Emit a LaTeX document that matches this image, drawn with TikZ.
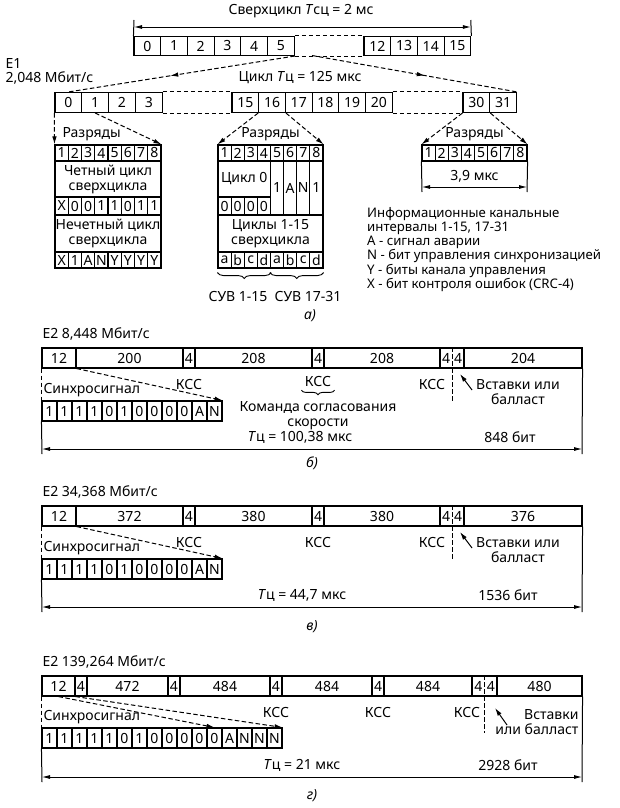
\documentclass[tikz,border=0pt]{standalone}
\usepackage{fontspec}
\setmainfont{Noto Sans}
\usepackage{tikz}
\usetikzlibrary{arrows.meta,positioning,calc,decorations.pathreplacing,decorations.markings}
\tikzset{
  celda/.style={rectangle, draw=black, line width=1.1pt, inner sep=0pt,
                minimum height=20pt},
  bit/.style={celda, minimum width=13.2pt, minimum height=16pt},
  guion/.style={line width=1pt, dash pattern=on 4.5pt off 2.5pt},
  flecha/.style={-{Latex[length=8pt,width=4.5pt]}},
  medio/.style={postaction={decorate},
                decoration={markings, mark=at position 0.55 with {\arrow{Latex[length=8pt,width=4.5pt]}}}},
  cota/.style={{Latex[length=8pt,width=4pt]}-{Latex[length=8pt,width=4pt]}, line width=0.8pt},
  marca/.style={line width=1pt},
  llave/.style={decorate, decoration={brace, mirror, amplitude=#1}, line width=0.9pt},
  llave/.default=6pt,
  parte/.style={font=\fontsize{14}{15}\selectfont\itshape}
}

\begin{document}
\begin{tikzpicture}[x=1pt, y=-1pt, font=\fontsize{14}{15}\selectfont]
  \useasboundingbox (0,0) rectangle (620,808);

  % --- a) Сверхцикл ---
  \node (tsc) at (301,11) {Сверхцикл \textit{T}сц = 2 мс};
  \foreach \t in {0,...,5}
    \node[celda, minimum width=26.7pt, minimum height=19pt] (s\t) at ({147.35+26.7*\t},46) {\t};
  \foreach \t in {12,...,15}
    \node[celda, minimum width=26.7pt, minimum height=19pt] (s\t) at ({377.35+26.7*(\t-12)},46) {\t};
  \draw[guion] (s5.north east) -- (s12.north west);
  \draw[guion] (s5.south east) -- (s12.south west);
  \coordinate (cA) at (134,20);
  \coordinate (cB) at (470.8,20);
  \draw[marca] (s0.north west) -- (cA);
  \draw[marca] (s15.north east) -- (cB);
  \draw[cota] ($(cA)+(0,7)$) -- ($(cB)+(0,7)$);

  % --- E1 ---
  \node[anchor=west] (e1) at (2,64) {E1};
  \node[anchor=west] (e1v) at (2,78) {2,048 Мбит/с};
  \node (tc) at (300,78) {Цикл \textit{T}ц = 125 мкс};
  \foreach \t in {0,...,3}
    \node[celda, minimum width=26.8pt] (c\t) at ({68.4+26.8*\t},102.5) {\t};
  \foreach \t in {15,...,20}
    \node[celda, minimum width=26.7pt] (c\t) at ({245.35+26.7*(\t-15)},102.5) {\t};
  \foreach \t in {30,31}
    \node[celda, minimum width=26.8pt] (c\t) at ({476.4+26.8*(\t-30)},102.5) {\t};
  \draw[guion] (c3.north east) -- (c15.north west);
  \draw[guion] (c3.south east) -- (c15.south west);
  \draw[guion] (c20.north east) -- (c30.north west);
  \draw[guion] (c20.south east) -- (c30.south west);
  \coordinate (hA) at (312,55.5);
  \draw[guion, medio] (s5.south east) -- (c0.north);
  \draw[guion, medio] (hA) -- (c31.north east);

  % --- Разряды ---
  \node[anchor=west] (raz1) at (59,134) {Разряды};
  \node (raz2) at (270.5,134) {Разряды};
  \node (raz3) at (474.5,134) {Разряды};

  % tabla izquierda (КИ 0)
  \foreach \i in {1,...,8}
    \node[bit] (l\i) at ({48.375+13.25*\i},153) {\i};
  \node[celda, minimum width=106pt, minimum height=36pt, align=center] (lpar) at (108,179) {Четный цикл\\сверхцикла};
  \foreach \t [count=\i] in {X,0,0,1,1,0,1,1}
    \node[bit, minimum height=18pt] (lx\i) at ({48.375+13.25*\i},206) {\t};
  \node[celda, minimum width=106pt, minimum height=37pt, align=center] (limp) at (108,233.5) {Нечетный цикл\\сверхцикла};
  \foreach \t [count=\i] in {X,1,A,N,Y,Y,Y,Y}
    \node[bit] (ly\i) at ({48.375+13.25*\i},260) {\t};

  % tabla central (КИ 16)
  \foreach \i in {1,...,8}
    \node[bit] (m\i) at ({211.4375+13.125*\i},153) {\i};
  \node[celda, minimum width=52.5pt, minimum height=36pt] (mc0) at (244.25,179) {Цикл 0};
  \foreach \i in {1,...,4}
    \node[bit, minimum height=18pt] (mz\i) at ({211.4375+13.125*\i},206) {0};
  \foreach \t [count=\i from 5] in {1,A,N,1}
    \node[bit, minimum height=54pt] (mk\i) at ({211.4375+13.125*\i},188) {\t};
  \node[celda, minimum width=105pt, minimum height=37pt, align=center] (mcic) at (270.5,233.5) {Циклы 1-15\\сверхцикла};
  \foreach \t [count=\i] in {a,b,c,d,a,b,c,d}
    \node[bit] (ma\i) at ({211.4375+13.125*\i},260) {\t};
  \draw[llave] ($(ma1.south west)+(0,4)$) -- ($(ma4.south east)+(0,4)$);
  \draw[llave] ($(ma5.south west)+(0,4)$) -- ($(ma8.south east)+(0,4)$);
  \node (suv1) at (238,297) {СУВ 1-15};
  \node (suv2) at (308,297) {СУВ 17-31};

  % tabla derecha
  \foreach \i in {1,...,8}
    \node[bit] (r\i) at ({415.4375+13.125*\i},153) {\i};
  \coordinate (cC) at (422,192);
  \coordinate (cD) at (527,192);
  \draw[marca] (r1.south west) -- (cC);
  \draw[marca] (r8.south east) -- (cD);
  \draw[cota] ($(cC)+(0,-5)$) -- ($(cD)+(0,-5)$);
  \node (t39) at (474.5,176) {3,9 мкс};

  \draw[guion, flecha] (c0.south west) -- (l1.north west);
  \draw[guion, flecha] (c1.south) -- (l8.north east);
  \draw[guion, flecha] (c16.south west) -- (m1.north west);
  \draw[guion, flecha] (c16.south east) -- (m8.north east);
  \draw[guion, flecha] (c30.south west) -- (r1.north west);
  \draw[guion, flecha] (c30.south east) -- (r8.north east);

  \node[anchor=north west, align=left, inner sep=0pt, font=\fontsize{13.2}{14.2}\selectfont] (leyenda) at (367,207)
    {Информационные канальные\\интервалы 1-15, 17-31\\A - сигнал аварии\\N - бит управления синхронизацией\\Y - биты канала управления\\X - бит контроля ошибок (CRC-4)};
  \node[parte] (pa) at (310,316) {а)};

  % --- б) E2 8,448 ---
  \node[anchor=west] (e2b) at (39,334) {E2 8,448 Мбит/с};
  \foreach \a/\b/\t/\n in {42/76/12/b1, 76/183/200/b2, 183/195/4/b3, 195/312/208/b4,
                           312/324/4/b5, 324/440/208/b6, 440/464/{}/b7, 464/582/204/b8}
    \node[celda, minimum width={(\b-\a)*1pt}] (\n) at ({(\a+\b)/2},358) {\t};
  \node (b7a) at (446,358) {4};
  \node (b7b) at (458,358) {4};
  \coordinate (b7c) at (452,403);
  \draw[guion] (b7.north) -- (b7c);
  \node (kb1) at (189,384) {КСС};
  \node (kb2) at (318,381) {КСС};
  \node (kb3) at (432,384) {КСС};
  \draw[llave=4.5pt] ($(kb2.south west)+(0,0.5)$) -- ($(kb2.south east)+(0,0.5)$);
  \node[align=center] (cmd) at (318,416) {Команда согласования\\скорости};
  \node[align=center] (vb) at (518,392) {Вставки или\\балласт};
  \coordinate (fb0) at (472,390);
  \coordinate (fb1) at (460,374);
  \draw[flecha, line width=1pt] (fb0) -- (fb1);
  \node[anchor=west] (snb) at (40,390) {Синхросигнал};
  \foreach \t [count=\i] in {1,1,1,1,0,1,0,0,0,0,A,N}
    \node[celda, minimum width=15pt] (bs\i) at ({34.5+15*\i},411) {\t};
  \draw[guion] (b1.south west) -- (bs1.north west);
  \draw[guion, flecha] (b1.south east) -- (bs12.north east);
  \coordinate (bL) at (42,454);
  \coordinate (bR) at (582,454);
  \draw[marca] (bs1.south west) -- (bL);
  \draw[marca] (b8.south east) -- (bR);
  \draw[cota] ($(bL)+(0,-5)$) -- ($(bR)+(0,-5)$);
  \node (tb) at (300,437) {\textit{T}ц = 100,38 мкс};
  \node (nb) at (510,437) {848 бит};
  \node[parte] (pb) at (312,463) {б)};

  % --- в) E2 34,368 ---
  \node[anchor=west] (e2v) at (39,492) {E2 34,368 Мбит/с};
  \foreach \a/\b/\t/\n in {42/76/12/v1, 76/183/372/v2, 183/195/4/v3, 195/312/380/v4,
                           312/324/4/v5, 324/440/380/v6, 440/464/{}/v7, 464/582/376/v8}
    \node[celda, minimum width={(\b-\a)*1pt}] (\n) at ({(\a+\b)/2},516) {\t};
  \node (v7a) at (446,516) {4};
  \node (v7b) at (458,516) {4};
  \coordinate (v7c) at (452,561);
  \draw[guion] (v7.north) -- (v7c);
  \node (kv1) at (189,542) {КСС};
  \node (kv2) at (318,542) {КСС};
  \node (kv3) at (432,542) {КСС};
  \node[align=center] (vv) at (518,550) {Вставки или\\балласт};
  \coordinate (fv0) at (472,548);
  \coordinate (fv1) at (460,532);
  \draw[flecha, line width=1pt] (fv0) -- (fv1);
  \node[anchor=west] (snv) at (40,548) {Синхросигнал};
  \foreach \t [count=\i] in {1,1,1,1,0,1,0,0,0,0,A,N}
    \node[celda, minimum width=15pt] (vs\i) at ({34.5+15*\i},569) {\t};
  \draw[guion] (v1.south west) -- (vs1.north west);
  \draw[guion, flecha] (v1.south east) -- (vs12.north east);
  \coordinate (vL) at (42,612);
  \coordinate (vR) at (582,612);
  \draw[marca] (vs1.south west) -- (vL);
  \draw[marca] (v8.south east) -- (vR);
  \draw[cota] ($(vL)+(0,-5)$) -- ($(vR)+(0,-5)$);
  \node (tv) at (302,595) {\textit{T}ц = 44,7 мкс};
  \node (nv) at (508,595) {1536 бит};
  \node[parte] (pv) at (312,627) {в)};

  % --- г) E2 139,264 ---
  \node[anchor=west] (e2g) at (39,662) {E2 139,264 Мбит/с};
  \foreach \a/\b/\t/\n in {42/75/12/g1, 75/87/4/g2, 87/168/472/g3, 168/180/4/g4,
                           180/270/484/g5, 270/282/4/g6, 282/372/484/g7, 372/384/4/g8,
                           384/472/484/g9, 472/497/{}/g10, 497/582/480/g11}
    \node[celda, minimum width={(\b-\a)*1pt}] (\n) at ({(\a+\b)/2},686) {\t};
  \node (g10a) at (478.25,686) {4};
  \node (g10b) at (490.75,686) {4};
  \coordinate (g10c) at (484.5,733);
  \draw[guion] (g10.north) -- (g10c);
  \node (kg1) at (276,712) {КСС};
  \node (kg2) at (378,712) {КСС};
  \node (kg3) at (467,712) {КСС};
  \node[align=right, anchor=east] (vg) at (582,722) {Вставки\\или балласт};
  \coordinate (fg0) at (507,725);
  \coordinate (fg1) at (495,708);
  \draw[flecha, line width=1pt] (fg0) -- (fg1);
  \node[anchor=west] (sng) at (40,717) {Синхросигнал};
  \foreach \t [count=\i] in {1,1,1,1,1,0,1,0,0,0,0,0,A,N,N,N}
    \node[celda, minimum width=15pt] (gs\i) at ({34.5+15*\i},738) {\t};
  \draw[guion] (g1.south west) -- (gs1.north west);
  \draw[guion, flecha] (g1.south) -- (gs12.north);
  \draw[guion, flecha] (g1.south east) -- (gs16.north east);
  \coordinate (gL) at (42,782);
  \coordinate (gR) at (582,782);
  \draw[marca] (gs1.south west) -- (gL);
  \draw[marca] (g11.south east) -- (gR);
  \draw[cota] ($(gL)+(0,-5)$) -- ($(gR)+(0,-5)$);
  \node (tg) at (302,765) {\textit{T}ц = 21 мкс};
  \node (ng) at (508,765) {2928 бит};
  \node[parte] (pg) at (312,796) {г)};
\end{tikzpicture}
\end{document}
